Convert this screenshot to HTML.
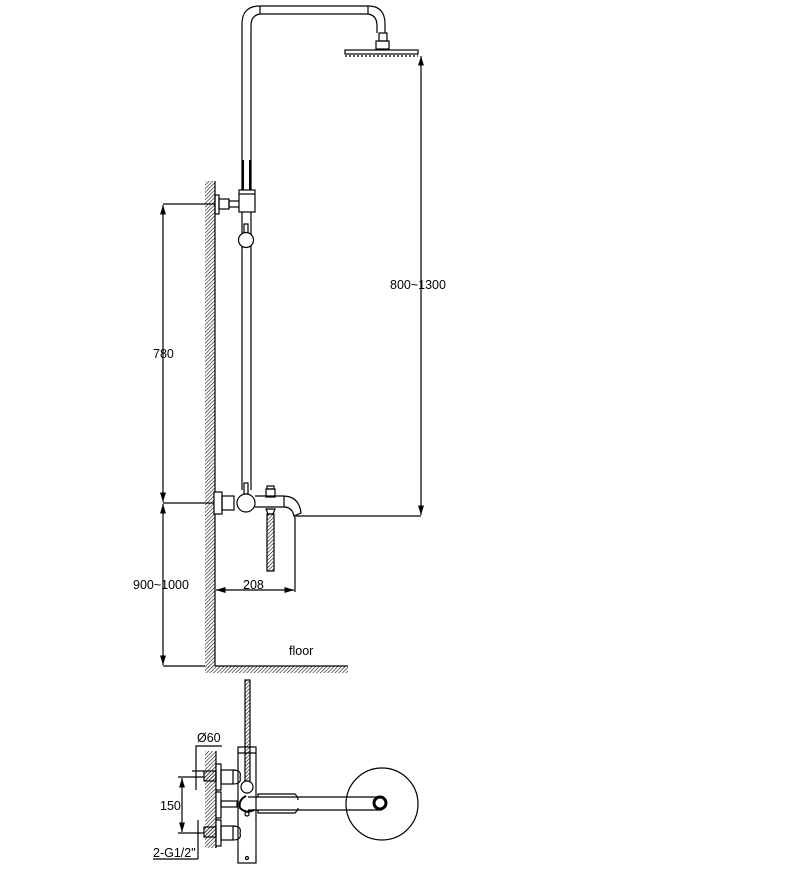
<!DOCTYPE html>
<html><head><meta charset="utf-8"><style>
html,body{margin:0;padding:0;background:#fff;}
svg{display:block;}
text{font-family:"Liberation Sans",sans-serif;font-size:12.5px;fill:#000;}
</style></head><body>
<svg width="809" height="878" viewBox="0 0 809 878" xmlns="http://www.w3.org/2000/svg">
<defs>
<pattern id="h" width="2.6" height="2.6" patternUnits="userSpaceOnUse" patternTransform="rotate(45)">
<line x1="0" y1="0" x2="0" y2="2.6" stroke="#000" stroke-width="1.1"/>
</pattern>
<marker id="a" viewBox="0 0 8 8" refX="8" refY="4" markerWidth="8" markerHeight="8" orient="auto-start-reverse">
<path d="M0,1.5 L8,4 L0,6.5 z" fill="#000"/>
</marker>
</defs>
<g fill="none" stroke="#000" stroke-width="1.2">
<rect x="205" y="181" width="10" height="487" fill="url(#h)" stroke="none"/>
<line x1="215" y1="181" x2="215" y2="666"/>
<rect x="205" y="666" width="143" height="7" fill="url(#h)" stroke="none"/>
<line x1="215" y1="666" x2="348" y2="666"/>
<path d="M242,490 V24 Q242,6 260,6 H368 Q385,6 385,24 V33"/>
<path d="M251,490 V26 Q251,14 262,14 H366 Q377,14 377,26 V33"/>
<line x1="260" y1="6" x2="260" y2="14"/><line x1="368" y1="6" x2="368" y2="14"/>
<rect x="379" y="33" width="8" height="8"/>
<rect x="376" y="41" width="13" height="8"/>
<rect x="345" y="50" width="73" height="4"/>
<line x1="345" y1="56" x2="418" y2="56" stroke-dasharray="2,2"/>
<line x1="243" y1="160" x2="243" y2="190" stroke-width="2"/>
<line x1="250" y1="160" x2="250" y2="190" stroke-width="2"/>
<rect x="215" y="195" width="4" height="19"/>
<rect x="219" y="199" width="10" height="10"/>
<rect x="229" y="201" width="11" height="6"/>
<rect x="239" y="190" width="16" height="22" fill="#fff"/>
<line x1="239" y1="194" x2="255" y2="194"/>
<rect x="244" y="224" width="4" height="10"/>
<circle cx="246" cy="240" r="7.5" fill="#fff"/>
<rect x="214" y="492" width="8" height="22" fill="#fff"/>
<rect x="222" y="496" width="12" height="14"/>
<rect x="244" y="483" width="4" height="11"/>
<circle cx="246" cy="503" r="9" fill="#fff"/>
<path d="M255,496 H283 Q299,496 301,513 L294,516 Q292,507 284,507 H255"/>
<line x1="284" y1="496" x2="284" y2="507"/>
<rect x="266" y="489" width="9" height="8"/>
<rect x="267" y="486" width="7" height="3"/>
<path d="M266,509 h9 l-2,5 h-5 z"/>
<rect x="267" y="514" width="7" height="57" fill="url(#h)"/>
<line x1="163" y1="204" x2="215" y2="204"/>
<line x1="163" y1="666" x2="205" y2="666"/>
<line x1="163" y1="503" x2="214" y2="503"/>
<line x1="163" y1="205" x2="163" y2="502" marker-start="url(#a)" marker-end="url(#a)"/>
<line x1="163" y1="504" x2="163" y2="665" marker-start="url(#a)" marker-end="url(#a)"/>
<line x1="296" y1="516" x2="421" y2="516"/>
<line x1="421" y1="56" x2="421" y2="515" marker-start="url(#a)" marker-end="url(#a)"/>
<line x1="295" y1="516" x2="295" y2="592"/>
<line x1="216" y1="590" x2="294" y2="590" marker-start="url(#a)" marker-end="url(#a)"/>
<rect x="245" y="680" width="5" height="104" fill="url(#h)"/>
<rect x="238" y="747" width="18" height="116"/>
<line x1="238" y1="753" x2="256" y2="753"/>
<circle cx="247" cy="787" r="6" fill="#fff"/>
<circle cx="247" cy="814" r="2"/><circle cx="247" cy="858" r="1.5"/>
<circle cx="382" cy="804" r="36"/>
<path d="M248,797 H382 M248,810 H382"/>
<path d="M258,797 V794 H295 Q298,797 298,800 M258,810 V813 H295 Q298,810 298,808"/>
<circle cx="380" cy="803" r="6" stroke-width="3"/>
<path d="M246,796 Q238,800 240,808 Q246,814 254,810" stroke-width="2"/>
<rect x="205" y="751" width="11" height="97" fill="url(#h)" stroke="none"/>
<line x1="216" y1="751" x2="216" y2="848"/>
<rect x="216" y="764" width="5" height="26" fill="#fff"/><rect x="221" y="770" width="12" height="14"/><path d="M233,770 Q242,770 240,777 Q242,784 233,784"/>
<rect x="204" y="771" width="12" height="10" fill="url(#h)"/>
<rect x="216" y="792" width="5" height="26" fill="#fff"/><rect x="221" y="801" width="16" height="6"/>
<rect x="216" y="820" width="5" height="26" fill="#fff"/><rect x="221" y="826" width="12" height="14"/><path d="M233,826 Q242,826 240,833 Q242,840 233,840"/>
<rect x="204" y="827" width="12" height="10" fill="url(#h)"/>
<polyline points="222,746 196,746 196,790"/>
<line x1="192" y1="771" x2="204" y2="771"/>
<line x1="178" y1="777" x2="204" y2="777"/>
<line x1="178" y1="833" x2="204" y2="833"/>
<line x1="182" y1="778" x2="182" y2="832" marker-start="url(#a)" marker-end="url(#a)"/>
<line x1="198" y1="820" x2="198" y2="859"/>
<line x1="153" y1="859" x2="198" y2="859"/>
</g>
<text x="390" y="289">800~1300</text>
<text x="153" y="358">780</text>
<text x="133" y="589">900~1000</text>
<text x="243" y="589">208</text>
<text x="289" y="655">floor</text>
<text x="197" y="742">Ø60</text>
<text x="160" y="810">150</text>
<text x="153" y="857">2-G1/2"</text>
</svg>
</body></html>
